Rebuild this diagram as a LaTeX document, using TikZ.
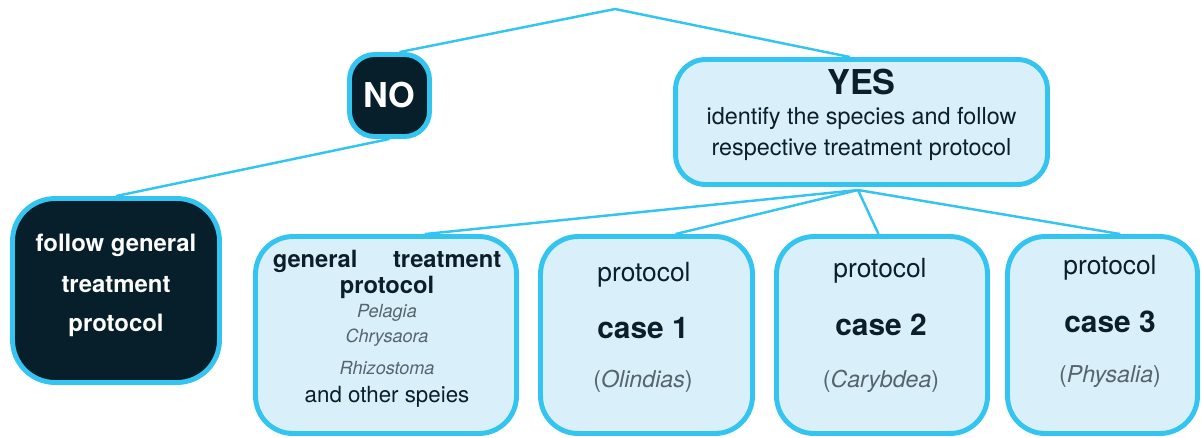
\documentclass[tikz,border=0pt]{standalone}
\usepackage{fontspec}
\setmainfont{TeX Gyre Heros}
\usepackage{tikz}
\usetikzlibrary{shapes}

\definecolor{linkblue}{HTML}{33C5F0}
\definecolor{palefill}{HTML}{D9F0FA}
\definecolor{darkfill}{HTML}{061F2B}
\definecolor{inktext}{HTML}{0B1E29}
\definecolor{speciesgray}{HTML}{55646D}

\tikzset{
  box/.style={shape=rectangle,draw=linkblue,line width=2.8pt,fill=palefill,rounded corners=0.75cm,inner sep=0pt},
  darkbox/.style={box,fill=darkfill},
  txt/.style={align=center,inner sep=0pt,text=inktext},
  whitetxt/.style={txt,text=white,font=\fontsize{13.6}{16}\selectfont\bfseries},
  headtxt/.style={txt,font=\fontsize{15}{18}\selectfont},
  casetxt/.style={txt,font=\fontsize{17}{20}\selectfont\bfseries},
  nametxt/.style={txt,text=speciesgray,font=\fontsize{13.2}{16}\selectfont},
  speciestxt/.style={txt,text=speciesgray,font=\fontsize{10.3}{12}\selectfont\itshape},
  link/.style={-,draw=linkblue,line width=1.4pt},
}

\begin{document}
\begin{tikzpicture}[x=0.02cm,y=-0.02cm]\useasboundingbox (0,0) rectangle (1202,437);
\node[darkbox,rounded corners=0.5cm,minimum width=1.6cm,minimum height=1.64cm] (no) at (389.5,95.5) {};
\node[darkbox,rounded corners=0.85cm,minimum width=4.14cm,minimum height=3.68cm] (follow) at (116,290.5) {};
\node[box,rounded corners=0.6cm,minimum width=7.44cm,minimum height=2.5cm] (yes) at (861.5,122) {};
\node[box,minimum width=5.22cm,minimum height=3.94cm] (general) at (386,335) {};
\node[box,minimum width=4.24cm,minimum height=3.94cm] (case1) at (646.5,335) {};
\node[box,minimum width=4.22cm,minimum height=3.94cm] (case2) at (882,335) {};
\node[box,minimum width=3.8cm,minimum height=3.94cm] (case3) at (1102.5,335) {};

\coordinate (top) at (615,9);
\coordinate (hub) at (858,190);

% texts
\node[txt,text=white,font=\fontsize{19.5}{22}\selectfont\bfseries] (notxt) at (389.5,95) {NO};
\node[whitetxt] (followa) at (116,245) {follow general};
\node[whitetxt] (followb) at (116,285) {treatment};
\node[whitetxt] (followc) at (116,325) {protocol};

\node[txt,font=\fontsize{19.5}{22}\selectfont\bfseries] (yestxt) at (861.5,82) {YES};
\node[txt,font=\fontsize{13.3}{16}\selectfont] (yesa) at (861.5,118) {identify the species and follow};
\node[txt,font=\fontsize{13.3}{16}\selectfont] (yesb) at (861.5,150) {respective treatment protocol};

\node[txt,font=\fontsize{13.5}{16}\selectfont\bfseries] (gena) at (387,261) {\makebox[130pt]{general\hfill treatment}};
\node[txt,font=\fontsize{13.5}{16}\selectfont\bfseries] (genb) at (387,287) {protocol};
\node[speciestxt] (pelagia) at (387,313) {Pelagia};
\node[speciestxt] (chrysaora) at (387,338) {Chrysaora};
\node[speciestxt] (rhizostoma) at (387,368) {Rhizostoma};
\node[txt,font=\fontsize{12.7}{15}\selectfont] (others) at (387,397) {and other speies};

\node[headtxt] (c1a) at (644,275) {protocol};
\node[casetxt] (c1b) at (643,328) {case 1};
\node[nametxt] (c1c) at (643,381) {(\textit{Olindias})};
\node[headtxt] (c2a) at (880,271) {protocol};
\node[casetxt] (c2b) at (881,325) {case 2};
\node[nametxt] (c2c) at (881,381) {(\textit{Carybdea})};
\node[headtxt] (c3a) at (1110,268) {protocol};
\node[casetxt] (c3b) at (1110,322) {case 3};
\node[nametxt] (c3c) at (1110,377) {(\textit{Physalia})};

\path [link] (top) edge (no.77);
\path [link] (top) edge (yes.100);
\path [link] (no.south) edge (follow.north);
\path [link] (hub) edge (general.69);
\path [link] (hub) edge (case1.74);
\path [link] (hub) edge (case2.92);
\path [link] (hub) edge (case3.80);
\end{tikzpicture}
\end{document}
